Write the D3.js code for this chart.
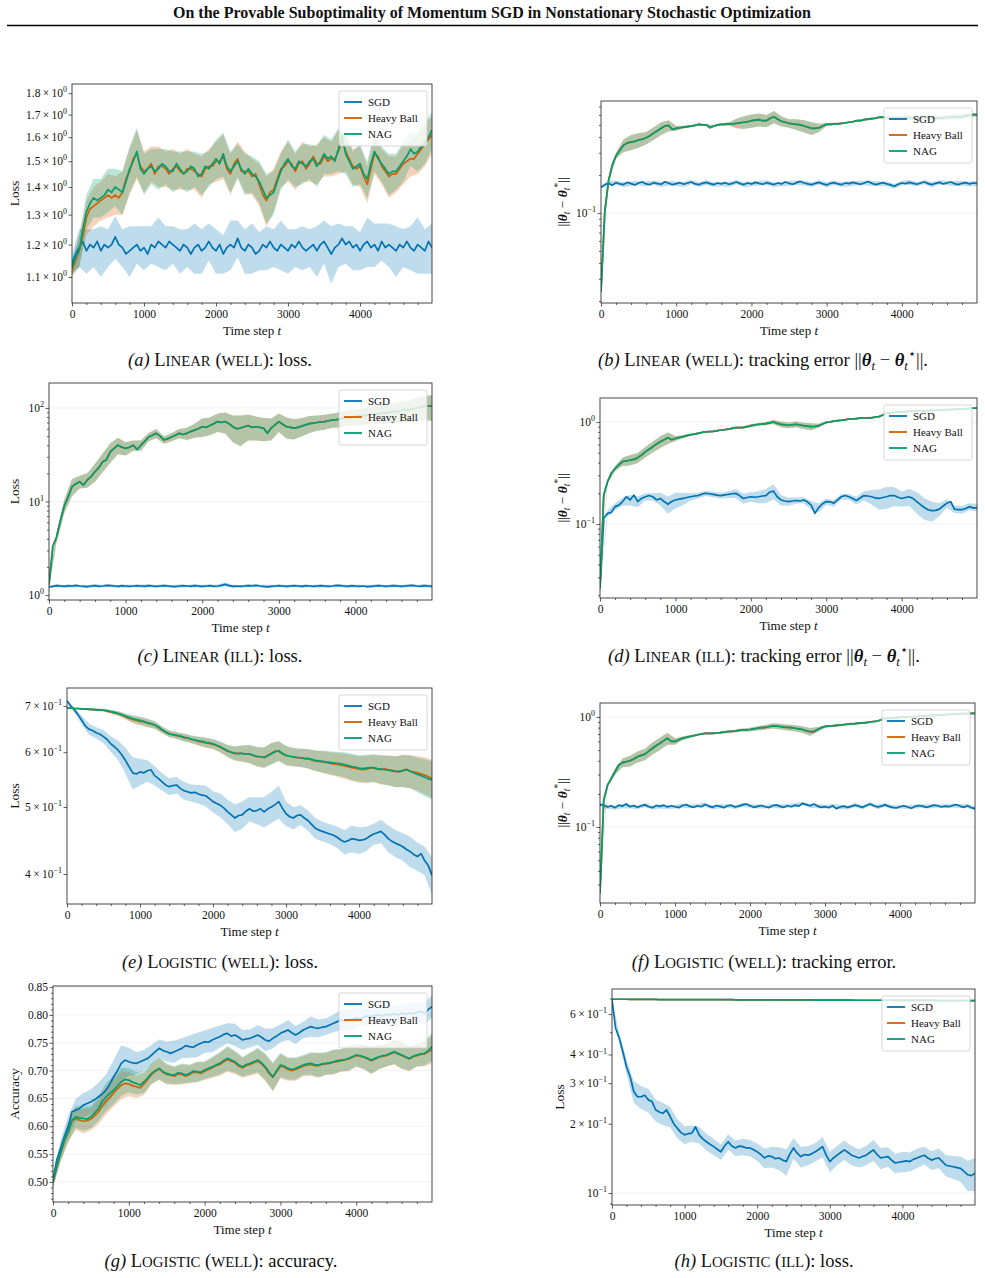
<!DOCTYPE html>
<html>
<head>
<meta charset="utf-8">
<script src="https://cdn.jsdelivr.net/npm/d3@7"></script>
<style>
body { margin: 0; background: #fff; }
svg { display: block; }
text { font-family: "Liberation Serif", "Times New Roman", serif; fill: #111; }
</style>
</head>
<body>
<svg id="fig" width="985" height="1278"></svg>
<script>
/*global d3*/

// ---- time grid (every 50 steps, last step 4999) ----
var steps = d3.range(0, 5000, 50).concat([4999]);
var bandSteps = steps.filter(function (d, i) { return i % 2 === 0; });
var xTicks = [0, 1000, 2000, 3000, 4000];

// ---- (a) Linear (well): loss ----
var sgdA = [1.14,1.17,1.19,1.21,1.18,1.20,1.19,1.21,1.18,1.20,
  1.19,1.20,1.225,1.20,1.19,1.17,1.18,1.19,1.20,1.18,
  1.19,1.17,1.20,1.19,1.21,1.20,1.19,1.21,1.20,1.19,
  1.18,1.20,1.19,1.17,1.19,1.20,1.18,1.19,1.21,1.19,
  1.18,1.20,1.17,1.19,1.20,1.19,1.22,1.19,1.18,1.20,
  1.19,1.17,1.18,1.20,1.19,1.21,1.19,1.18,1.20,1.19,
  1.18,1.20,1.19,1.21,1.19,1.18,1.19,1.20,1.18,1.20,
  1.21,1.19,1.17,1.19,1.20,1.22,1.20,1.21,1.19,1.20,
  1.18,1.20,1.21,1.19,1.20,1.18,1.21,1.19,1.20,1.19,
  1.18,1.20,1.19,1.21,1.19,1.18,1.20,1.19,1.18,1.21,
  1.19];
var bandSgdA = [0.03,0.06,0.07,0.06,0.08,0.06,0.07,0.06,0.08,0.06,
  0.07,0.06,0.08,0.07,0.06,0.07,0.06,0.08,0.07,0.06,
  0.07,0.06,0.08,0.06,0.07,0.08,0.06,0.07,0.06,0.08,
  0.07,0.06,0.07,0.06,0.08,0.07,0.09,0.07,0.06,0.07,
  0.06,0.08,0.07,0.06,0.07,0.08,0.06,0.07,0.09,0.07,
  0.08];
var hbA = [1.12,1.15,1.18,1.23,1.29,1.32,1.33,1.34,1.35,1.36,
  1.37,1.36,1.37,1.36,1.38,1.43,1.46,1.51,1.53,1.48,
  1.46,1.47,1.49,1.45,1.48,1.48,1.47,1.45,1.47,1.48,
  1.46,1.45,1.47,1.47,1.46,1.45,1.44,1.47,1.48,1.48,
  1.50,1.50,1.52,1.47,1.45,1.49,1.51,1.46,1.46,1.46,
  1.44,1.45,1.41,1.37,1.35,1.38,1.39,1.43,1.47,1.48,
  1.50,1.49,1.46,1.49,1.50,1.47,1.49,1.52,1.49,1.49,
  1.52,1.50,1.51,1.51,1.54,1.59,1.54,1.51,1.48,1.47,
  1.48,1.44,1.41,1.47,1.53,1.52,1.48,1.46,1.44,1.45,
  1.45,1.47,1.49,1.50,1.51,1.51,1.53,1.55,1.57,1.59,
  1.61];
var nagA = [1.13,1.16,1.18,1.25,1.31,1.34,1.36,1.35,1.36,1.37,
  1.39,1.38,1.40,1.39,1.38,1.42,1.47,1.50,1.54,1.47,
  1.45,1.47,1.48,1.46,1.47,1.49,1.48,1.46,1.46,1.49,
  1.47,1.45,1.46,1.48,1.47,1.44,1.45,1.48,1.47,1.49,
  1.51,1.49,1.53,1.48,1.46,1.48,1.50,1.47,1.45,1.47,
  1.45,1.44,1.42,1.39,1.36,1.37,1.38,1.42,1.46,1.49,
  1.51,1.48,1.47,1.50,1.49,1.48,1.50,1.51,1.48,1.50,
  1.53,1.51,1.52,1.50,1.55,1.61,1.53,1.50,1.47,1.48,
  1.49,1.45,1.43,1.49,1.54,1.51,1.49,1.47,1.45,1.46,
  1.46,1.48,1.50,1.52,1.55,1.53,1.54,1.56,1.58,1.60,
  1.63];
var bandNagA = [0.02,0.05,0.06,0.07,0.07,0.08,0.07,0.08,0.09,0.10,
  0.08,0.07,0.08,0.07,0.08,0.07,0.08,0.07,0.08,0.07,
  0.08,0.09,0.08,0.07,0.08,0.07,0.08,0.09,0.08,0.07,
  0.08,0.07,0.08,0.07,0.08,0.08,0.07,0.09,0.08,0.07,
  0.08,0.07,0.08,0.07,0.08,0.07,0.08,0.07,0.08,0.09,
  0.08];

// ---- (b) Linear (well): tracking error ----
var sgdB = [0.160,0.168,0.172,0.166,0.174,0.170,0.168,0.175,0.171,0.167,
  0.173,0.176,0.170,0.168,0.174,0.171,0.169,0.177,0.172,0.168,
  0.171,0.174,0.169,0.173,0.176,0.170,0.168,0.172,0.175,0.171,
  0.168,0.173,0.170,0.174,0.169,0.172,0.176,0.171,0.168,0.173,
  0.170,0.175,0.172,0.169,0.174,0.171,0.168,0.173,0.170,0.176,
  0.172,0.169,0.174,0.178,0.173,0.170,0.168,0.172,0.175,0.170,
  0.167,0.172,0.174,0.170,0.168,0.173,0.171,0.175,0.172,0.169,
  0.173,0.178,0.172,0.168,0.171,0.174,0.170,0.167,0.163,0.169,
  0.173,0.171,0.175,0.172,0.169,0.173,0.176,0.171,0.168,0.172,
  0.175,0.170,0.173,0.176,0.171,0.168,0.172,0.174,0.170,0.173,
  0.172];
var bandSgdB = [0.004,0.007,0.007,0.008,0.007,0.007,0.008,0.007,0.008,0.007,
  0.007,0.008,0.007,0.007,0.008,0.007,0.007,0.008,0.007,0.008,
  0.007,0.007,0.008,0.007,0.007,0.008,0.007,0.008,0.007,0.007,
  0.008,0.007,0.007,0.008,0.007,0.007,0.008,0.007,0.008,0.007,
  0.007,0.008,0.007,0.007,0.008,0.007,0.007,0.008,0.007,0.008,
  0.008];
var nagB = [0.0236,0.102,0.18,0.24,0.285,0.315,0.345,0.36,0.365,0.37,
  0.38,0.385,0.395,0.41,0.43,0.45,0.47,0.49,0.495,0.46,
  0.47,0.475,0.48,0.485,0.49,0.495,0.505,0.50,0.50,0.475,
  0.49,0.50,0.505,0.505,0.51,0.51,0.515,0.52,0.525,0.53,
  0.54,0.545,0.55,0.54,0.54,0.565,0.58,0.555,0.535,0.525,
  0.515,0.51,0.505,0.50,0.49,0.48,0.47,0.47,0.475,0.49,
  0.505,0.505,0.51,0.51,0.515,0.52,0.525,0.53,0.54,0.54,
  0.55,0.555,0.56,0.565,0.575,0.58,0.57,0.565,0.57,0.57,
  0.57,0.575,0.57,0.565,0.565,0.57,0.565,0.57,0.57,0.565,
  0.565,0.57,0.575,0.575,0.58,0.58,0.58,0.59,0.60,0.605,
  0.60];
var bandNagB = [0.001,0.004,0.015,0.04,0.05,0.05,0.045,0.05,0.055,0.05,
  0.02,0.012,0.01,0.008,0.008,0.008,0.01,0.015,0.045,0.06,
  0.065,0.065,0.06,0.065,0.05,0.04,0.05,0.055,0.055,0.035,
  0.012,0.01,0.008,0.008,0.01,0.01,0.012,0.012,0.015,0.015,
  0.02,0.02,0.02,0.02,0.02,0.02,0.02,0.025,0.025,0.02,
  0.015];

// ---- (c) Linear (ill): loss ----
var sgdC = [1.22,1.24,1.26,1.25,1.24,1.26,1.25,1.27,1.25,1.24,
  1.23,1.25,1.26,1.24,1.25,1.27,1.26,1.25,1.24,1.26,
  1.25,1.24,1.25,1.26,1.25,1.24,1.26,1.25,1.24,1.25,
  1.26,1.25,1.24,1.23,1.25,1.26,1.25,1.24,1.26,1.25,
  1.24,1.25,1.26,1.24,1.25,1.27,1.30,1.26,1.24,1.25,
  1.24,1.25,1.26,1.25,1.27,1.25,1.24,1.22,1.24,1.25,
  1.26,1.25,1.24,1.25,1.26,1.25,1.24,1.26,1.25,1.24,
  1.25,1.26,1.25,1.24,1.25,1.27,1.26,1.25,1.24,1.26,
  1.25,1.24,1.25,1.23,1.24,1.25,1.26,1.25,1.24,1.25,
  1.26,1.25,1.24,1.25,1.26,1.27,1.25,1.24,1.26,1.25,
  1.24];
var bandSgdC = [0.02,0.05,0.04,0.05,0.04,0.05,0.05,0.04,0.05,0.04,
  0.05,0.04,0.05,0.05,0.04,0.05,0.04,0.05,0.04,0.05,
  0.05,0.04,0.05,0.06,0.05,0.04,0.05,0.04,0.05,0.05,
  0.04,0.05,0.04,0.05,0.04,0.05,0.05,0.04,0.05,0.04,
  0.05,0.04,0.05,0.05,0.04,0.05,0.04,0.05,0.04,0.05,
  0.05];
var nagC = [1.3,3.3,4.2,6.3,9.0,11.2,14.4,15.5,16.3,15.0,
  17,18.5,20.8,23,26.6,28,34,37,40,38,
  37,38,40,36,40,44,49,51,53.6,50,
  45.5,47,49,51,53.6,52,53.6,56,58,60,
  63,62,65,68,71.5,70,71.5,68,63,60,
  61,63,65,62,63,62,61,53.6,61,66,
  71.5,67,63,62,61,62,64,66,68,69,
  70,71,71.5,73,74.5,75,76,78,80,79,
  81,83,82,84,86,85,87,89,88,90,
  92,91,94,96,95,98,100,103,104,105,
  105];
var bandNagC = [0.1,0.5,1.5,3,2.5,3,4.5,6,8,8,
  6,5,5,5,6,4,5,6,8,10,
  14,14,16,18,20,22,20,18,17,16,
  16,16,15,14,14,13,13,13,14,15,
  16,17,18,19,20,22,24,26,28,30,
  32];

// ---- (d) Linear (ill): tracking error ----
var sgdD = [0.0234,0.114,0.127,0.13,0.148,0.153,0.166,0.185,0.172,0.192,
  0.166,0.178,0.185,0.19,0.185,0.172,0.178,0.166,0.156,0.166,
  0.172,0.175,0.178,0.182,0.185,0.188,0.19,0.196,0.20,0.198,
  0.195,0.192,0.19,0.193,0.195,0.198,0.20,0.19,0.178,0.182,
  0.185,0.183,0.185,0.188,0.19,0.205,0.21,0.185,0.172,0.168,
  0.166,0.168,0.17,0.168,0.172,0.165,0.153,0.127,0.145,0.158,
  0.166,0.165,0.16,0.172,0.185,0.19,0.185,0.178,0.17,0.18,
  0.19,0.188,0.185,0.18,0.178,0.182,0.185,0.19,0.19,0.183,
  0.178,0.182,0.185,0.178,0.166,0.155,0.145,0.138,0.135,0.136,
  0.14,0.15,0.16,0.166,0.14,0.138,0.138,0.142,0.148,0.143,
  0.145];
var bandSgdD = [0.001,0.01,0.012,0.015,0.02,0.02,0.015,0.015,0.025,0.03,
  0.03,0.025,0.015,0.012,0.012,0.012,0.012,0.015,0.02,0.02,
  0.02,0.025,0.03,0.035,0.02,0.015,0.012,0.012,0.015,0.015,
  0.012,0.012,0.012,0.012,0.015,0.02,0.03,0.04,0.045,0.04,
  0.03,0.035,0.04,0.035,0.03,0.02,0.015,0.012,0.012,0.012,
  0.012];
var nagD = [0.0234,0.192,0.26,0.314,0.35,0.38,0.41,0.415,0.424,0.43,
  0.447,0.475,0.51,0.54,0.573,0.61,0.641,0.67,0.70,0.67,
  0.69,0.705,0.718,0.735,0.75,0.76,0.775,0.79,0.80,0.805,
  0.81,0.82,0.835,0.84,0.85,0.865,0.88,0.88,0.885,0.90,
  0.92,0.935,0.95,0.955,0.965,0.98,1.0,0.97,0.95,0.94,
  0.93,0.94,0.95,0.935,0.92,0.91,0.90,0.905,0.92,0.955,
  0.99,1.0,1.02,1.03,1.04,1.05,1.07,1.07,1.08,1.09,
  1.10,1.10,1.10,1.12,1.13,1.17,1.22,1.23,1.24,1.25,
  1.26,1.265,1.27,1.275,1.28,1.285,1.29,1.295,1.30,1.305,
  1.31,1.315,1.32,1.325,1.33,1.335,1.34,1.35,1.36,1.365,
  1.37];
var bandNagD = [0.001,0.01,0.02,0.04,0.05,0.05,0.06,0.07,0.085,0.09,
  0.04,0.025,0.02,0.015,0.015,0.015,0.015,0.02,0.02,0.025,
  0.03,0.03,0.035,0.045,0.06,0.06,0.06,0.065,0.07,0.04,
  0.025,0.02,0.02,0.02,0.02,0.02,0.025,0.025,0.025,0.025,
  0.025,0.025,0.025,0.025,0.025,0.025,0.025,0.025,0.025,0.025,
  0.02];

// ---- (e) Logistic (well): loss ----
var sgdE = [0.712,0.70,0.691,0.68,0.668,0.655,0.648,0.645,0.64,0.637,
  0.632,0.626,0.617,0.611,0.604,0.595,0.584,0.572,0.56,0.558,
  0.562,0.56,0.564,0.566,0.555,0.55,0.544,0.538,0.535,0.537,
  0.538,0.532,0.528,0.526,0.524,0.525,0.522,0.52,0.519,0.514,
  0.509,0.506,0.503,0.498,0.492,0.487,0.482,0.486,0.487,0.493,
  0.497,0.493,0.494,0.497,0.492,0.497,0.50,0.504,0.509,0.498,
  0.489,0.484,0.482,0.486,0.487,0.482,0.478,0.472,0.466,0.463,
  0.461,0.459,0.457,0.455,0.452,0.448,0.445,0.447,0.45,0.449,
  0.4475,0.448,0.45,0.454,0.457,0.459,0.461,0.456,0.45,0.446,
  0.443,0.441,0.438,0.434,0.431,0.427,0.424,0.428,0.418,0.411,
  0.398];
var bandSgdE = [0.002,0.006,0.01,0.012,0.012,0.014,0.016,0.02,0.025,0.03,
  0.025,0.02,0.018,0.016,0.015,0.015,0.016,0.015,0.016,0.018,
  0.018,0.02,0.02,0.022,0.022,0.02,0.022,0.025,0.026,0.028,
  0.02,0.018,0.016,0.016,0.016,0.015,0.015,0.016,0.018,0.02,
  0.02,0.018,0.016,0.018,0.02,0.02,0.02,0.022,0.02,0.02,
  0.025];
var hbE = [0.695,0.695,0.694,0.694,0.693,0.693,0.692,0.692,0.691,0.691,
  0.690,0.688,0.686,0.684,0.682,0.679,0.675,0.672,0.669,0.667,
  0.665,0.664,0.661,0.659,0.657,0.652,0.646,0.641,0.638,0.636,
  0.634,0.633,0.630,0.629,0.626,0.625,0.622,0.621,0.619,0.618,
  0.616,0.613,0.610,0.606,0.602,0.600,0.597,0.598,0.597,0.596,
  0.596,0.594,0.591,0.591,0.589,0.594,0.598,0.602,0.602,0.597,
  0.593,0.592,0.590,0.589,0.589,0.587,0.587,0.585,0.583,0.582,
  0.581,0.580,0.578,0.577,0.576,0.575,0.573,0.572,0.570,0.569,
  0.567,0.566,0.567,0.569,0.569,0.567,0.566,0.568,0.566,0.565,
  0.563,0.562,0.565,0.567,0.563,0.562,0.560,0.558,0.556,0.553,
  0.550];
var nagE = [0.695,0.695,0.694,0.694,0.693,0.693,0.692,0.692,0.691,0.691,
  0.690,0.689,0.687,0.685,0.683,0.680,0.677,0.674,0.671,0.669,
  0.667,0.665,0.662,0.660,0.657,0.653,0.647,0.642,0.638,0.636,
  0.635,0.633,0.631,0.629,0.627,0.625,0.623,0.622,0.620,0.619,
  0.617,0.614,0.611,0.607,0.603,0.600,0.598,0.597,0.598,0.596,
  0.597,0.594,0.592,0.591,0.590,0.593,0.597,0.601,0.603,0.598,
  0.594,0.592,0.591,0.590,0.589,0.588,0.588,0.586,0.584,0.583,
  0.582,0.581,0.580,0.579,0.578,0.577,0.576,0.574,0.572,0.571,
  0.569,0.568,0.569,0.570,0.570,0.568,0.567,0.566,0.565,0.564,
  0.563,0.563,0.564,0.566,0.563,0.560,0.557,0.555,0.552,0.549,
  0.547];
var bandNagE = [0.001,0.001,0.002,0.002,0.003,0.003,0.004,0.005,0.006,0.008,
  0.009,0.009,0.008,0.007,0.007,0.007,0.008,0.008,0.009,0.010,
  0.010,0.011,0.012,0.014,0.016,0.018,0.019,0.020,0.021,0.020,
  0.019,0.018,0.018,0.019,0.020,0.021,0.022,0.023,0.024,0.025,
  0.025,0.026,0.026,0.027,0.028,0.029,0.030,0.031,0.032,0.034,
  0.035];

// ---- (f) Logistic (well): tracking error ----
var sgdF = [0.160,0.158,0.152,0.156,0.150,0.158,0.155,0.162,0.153,0.157,
  0.151,0.156,0.159,0.153,0.150,0.157,0.154,0.158,0.152,0.156,
  0.153,0.150,0.157,0.160,0.154,0.151,0.156,0.153,0.160,0.155,
  0.151,0.157,0.154,0.150,0.156,0.158,0.152,0.155,0.159,0.162,
  0.156,0.151,0.154,0.157,0.153,0.150,0.156,0.159,0.154,0.151,
  0.156,0.153,0.158,0.155,0.164,0.160,0.156,0.162,0.155,0.151,
  0.153,0.150,0.156,0.147,0.152,0.155,0.151,0.154,0.158,0.155,
  0.151,0.157,0.162,0.156,0.152,0.155,0.159,0.154,0.151,0.149,
  0.153,0.156,0.152,0.148,0.154,0.157,0.155,0.151,0.154,0.158,
  0.156,0.152,0.155,0.153,0.157,0.160,0.155,0.151,0.156,0.150,
  0.147];
var bandSgdF = [0.006,0.007,0.006,0.007,0.006,0.006,0.007,0.006,0.007,0.006,
  0.006,0.007,0.006,0.006,0.007,0.006,0.007,0.006,0.006,0.007,
  0.006,0.007,0.006,0.006,0.007,0.006,0.007,0.006,0.006,0.007,
  0.006,0.006,0.007,0.006,0.007,0.006,0.006,0.007,0.006,0.007,
  0.006,0.006,0.007,0.006,0.007,0.006,0.006,0.007,0.006,0.007,
  0.006];
var nagF = [0.025,0.176,0.24,0.275,0.318,0.366,0.385,0.392,0.40,0.415,
  0.435,0.448,0.46,0.49,0.52,0.55,0.577,0.61,0.64,0.60,
  0.60,0.62,0.64,0.655,0.665,0.675,0.69,0.70,0.71,0.71,
  0.71,0.715,0.72,0.728,0.735,0.74,0.745,0.755,0.762,0.765,
  0.77,0.78,0.79,0.80,0.805,0.815,0.83,0.825,0.82,0.81,
  0.805,0.80,0.79,0.78,0.77,0.75,0.735,0.735,0.77,0.80,
  0.82,0.825,0.83,0.838,0.845,0.85,0.86,0.865,0.87,0.878,
  0.885,0.89,0.90,0.91,0.92,0.945,0.97,0.975,0.98,0.985,
  0.99,0.995,1.0,1.005,1.01,1.015,1.02,1.025,1.03,1.035,
  1.04,1.045,1.05,1.055,1.06,1.065,1.07,1.072,1.075,1.078,
  1.08];
var bandNagF = [0.001,0.01,0.02,0.035,0.045,0.05,0.055,0.065,0.075,0.08,
  0.04,0.025,0.02,0.015,0.015,0.015,0.015,0.02,0.02,0.025,
  0.03,0.035,0.04,0.045,0.05,0.05,0.05,0.055,0.06,0.04,
  0.02,0.02,0.02,0.02,0.02,0.02,0.02,0.02,0.02,0.02,
  0.02,0.02,0.02,0.02,0.02,0.02,0.02,0.02,0.02,0.02,
  0.02];

// ---- (g) Logistic (well): accuracy ----
var sgdG = [0.503,0.54,0.56,0.581,0.599,0.626,0.629,0.632,0.638,0.641,
  0.644,0.648,0.653,0.658,0.665,0.676,0.689,0.70,0.713,0.719,
  0.716,0.714,0.713,0.716,0.719,0.722,0.728,0.734,0.74,0.736,
  0.734,0.731,0.734,0.737,0.74,0.745,0.743,0.742,0.746,0.749,
  0.752,0.751,0.755,0.758,0.761,0.765,0.767,0.762,0.764,0.76,
  0.755,0.757,0.758,0.761,0.764,0.76,0.755,0.753,0.758,0.762,
  0.767,0.77,0.773,0.768,0.764,0.768,0.773,0.776,0.779,0.777,
  0.776,0.778,0.779,0.782,0.785,0.788,0.791,0.789,0.79,0.792,
  0.795,0.793,0.796,0.798,0.797,0.799,0.80,0.798,0.801,0.80,
  0.802,0.80,0.803,0.801,0.804,0.802,0.805,0.806,0.803,0.81,
  0.815];
var bandSgdG = [0.01,0.015,0.02,0.02,0.022,0.022,0.025,0.028,0.03,0.032,
  0.025,0.02,0.018,0.018,0.016,0.018,0.02,0.018,0.02,0.022,
  0.02,0.022,0.02,0.018,0.02,0.018,0.016,0.018,0.02,0.018,
  0.016,0.018,0.016,0.015,0.018,0.016,0.015,0.016,0.018,0.02,
  0.018,0.016,0.015,0.016,0.018,0.016,0.015,0.016,0.018,0.02,
  0.02];
var hbG = [0.50,0.527,0.55,0.574,0.589,0.61,0.614,0.611,0.609,0.61,
  0.613,0.619,0.626,0.637,0.646,0.652,0.66,0.667,0.674,0.677,
  0.676,0.673,0.671,0.669,0.676,0.684,0.693,0.699,0.703,0.697,
  0.693,0.692,0.69,0.694,0.693,0.69,0.693,0.697,0.697,0.695,
  0.699,0.702,0.705,0.709,0.711,0.716,0.72,0.717,0.714,0.708,
  0.705,0.709,0.711,0.714,0.717,0.712,0.705,0.695,0.688,0.698,
  0.708,0.706,0.702,0.70,0.702,0.705,0.708,0.71,0.711,0.709,
  0.709,0.711,0.712,0.713,0.715,0.716,0.718,0.719,0.721,0.724,
  0.727,0.726,0.724,0.721,0.718,0.721,0.724,0.726,0.727,0.73,
  0.733,0.73,0.727,0.724,0.721,0.725,0.727,0.729,0.73,0.734,
  0.738];
var nagG = [0.50,0.528,0.552,0.576,0.59,0.611,0.617,0.615,0.614,0.613,
  0.617,0.624,0.632,0.645,0.653,0.659,0.665,0.672,0.68,0.684,
  0.683,0.679,0.677,0.674,0.68,0.687,0.695,0.70,0.704,0.698,
  0.695,0.693,0.692,0.696,0.695,0.692,0.695,0.699,0.698,0.697,
  0.701,0.704,0.707,0.71,0.713,0.718,0.722,0.719,0.716,0.71,
  0.707,0.711,0.713,0.716,0.719,0.714,0.707,0.697,0.689,0.70,
  0.71,0.708,0.704,0.702,0.704,0.707,0.71,0.712,0.713,0.711,
  0.71,0.712,0.713,0.714,0.716,0.718,0.719,0.72,0.722,0.725,
  0.728,0.727,0.725,0.722,0.719,0.722,0.725,0.727,0.728,0.731,
  0.734,0.731,0.728,0.725,0.722,0.726,0.728,0.73,0.731,0.736,
  0.743];
var bandNagG = [0.01,0.015,0.018,0.02,0.022,0.02,0.022,0.025,0.025,0.025,
  0.022,0.02,0.02,0.018,0.02,0.018,0.016,0.018,0.016,0.018,
  0.016,0.018,0.02,0.022,0.02,0.018,0.02,0.022,0.024,0.025,
  0.022,0.02,0.02,0.018,0.02,0.022,0.02,0.022,0.02,0.022,
  0.02,0.022,0.024,0.022,0.02,0.022,0.024,0.022,0.02,0.022,
  0.025];

// ---- (h) Logistic (ill): loss ----
var sgdH = [0.69,0.52,0.471,0.411,0.354,0.32,0.276,0.262,0.262,0.266,
  0.254,0.25,0.23,0.225,0.222,0.23,0.215,0.20,0.191,0.183,
  0.179,0.181,0.182,0.194,0.179,0.172,0.167,0.163,0.159,0.155,
  0.151,0.16,0.167,0.16,0.157,0.16,0.159,0.157,0.157,0.154,
  0.151,0.147,0.142,0.145,0.144,0.141,0.142,0.139,0.137,0.148,
  0.157,0.149,0.144,0.147,0.146,0.148,0.151,0.155,0.159,0.146,
  0.137,0.142,0.146,0.15,0.154,0.15,0.146,0.144,0.142,0.144,
  0.146,0.15,0.154,0.147,0.142,0.143,0.144,0.139,0.135,0.136,
  0.137,0.138,0.137,0.14,0.142,0.144,0.146,0.142,0.139,0.141,
  0.142,0.137,0.132,0.131,0.13,0.129,0.128,0.124,0.12,0.119,
  0.122];
var bandSgdH = [0.002,0.025,0.025,0.03,0.03,0.03,0.025,0.025,0.022,0.018,
  0.016,0.015,0.015,0.014,0.013,0.012,0.013,0.012,0.013,0.013,
  0.013,0.014,0.015,0.016,0.018,0.016,0.015,0.014,0.014,0.016,
  0.014,0.014,0.015,0.014,0.013,0.014,0.016,0.015,0.014,0.013,
  0.014,0.013,0.014,0.013,0.013,0.014,0.014,0.015,0.016,0.018,
  0.02];
var nagH = [0.695,0.695,0.695,0.695,0.695,0.694,0.694,0.694,0.694,0.694,
  0.694,0.694,0.694,0.693,0.693,0.693,0.693,0.693,0.693,0.693,
  0.693,0.693,0.693,0.692,0.692,0.692,0.692,0.692,0.692,0.692,
  0.692,0.692,0.692,0.692,0.691,0.691,0.691,0.691,0.691,0.691,
  0.691,0.691,0.691,0.691,0.691,0.690,0.690,0.690,0.690,0.690,
  0.690,0.690,0.690,0.690,0.690,0.690,0.689,0.689,0.689,0.689,
  0.689,0.689,0.689,0.689,0.689,0.689,0.689,0.688,0.688,0.688,
  0.688,0.688,0.688,0.688,0.688,0.688,0.688,0.688,0.687,0.687,
  0.687,0.687,0.687,0.687,0.687,0.687,0.687,0.687,0.687,0.687,
  0.686,0.686,0.686,0.686,0.686,0.686,0.686,0.686,0.686,0.686,
  0.686];
var bandNagH = [0.001,0.002,0.002,0.002,0.002,0.002,0.002,0.002,0.002,0.002,
  0.002,0.002,0.002,0.002,0.002,0.002,0.002,0.002,0.002,0.002,
  0.002,0.002,0.002,0.002,0.002,0.002,0.002,0.002,0.002,0.002,
  0.002,0.002,0.002,0.002,0.002,0.002,0.002,0.002,0.002,0.002,
  0.002,0.002,0.002,0.002,0.002,0.002,0.002,0.002,0.002,0.002,
  0.002];

// ---- y tick labels: [value, mantissa, exponent] ----
var yTicksA = [[1.1,"1.1","0"],[1.2,"1.2","0"],[1.3,"1.3","0"],[1.4,"1.4","0"],
  [1.5,"1.5","0"],[1.6,"1.6","0"],[1.7,"1.7","0"],[1.8,"1.8","0"]];
var yTicksB = [[0.1,"","\u22121"]];
var yTicksC = [[1,"","0"],[10,"","1"],[100,"","2"]];
var yTicksD = [[0.1,"","\u22121"],[1,"","0"]];
var yTicksE = [[0.4,"4","\u22121"],[0.5,"5","\u22121"],[0.6,"6","\u22121"],[0.7,"7","\u22121"]];
var yTicksF = [[0.1,"","\u22121"],[1,"","0"]];
var yTicksG = [[0.50,"0.50"],[0.55,"0.55"],[0.60,"0.60"],[0.65,"0.65"],
  [0.70,"0.70"],[0.75,"0.75"],[0.80,"0.80"],[0.85,"0.85"]];
var yTicksH = [[0.1,"","\u22121"],[0.2,"2","\u22121"],[0.3,"3","\u22121"],
  [0.4,"4","\u22121"],[0.6,"6","\u22121"]];

var seriesNames = ["SGD", "Heavy Ball", "NAG"];
var seriesColors = ["#0173B2", "#D55E00", "#029E73"];

// ---- text pieces ----
var lossLabel = [["Loss", "n"]];
var accLabel = [["Accuracy", "n"]];
var trackLabel = [["||", "n"], ["\u03b8", "bi"], ["t", "sub"], [" \u2212 ", "n"],
  ["\u03b8", "bi"], ["t", "sub"], ["*", "sup"], ["||", "n"]];
var trackCap = [["||", "n"], ["\u03b8", "bi"], ["t", "sub"], [" \u2212 ", "n"],
  ["\u03b8", "bi"], ["t", "sub"], ["\u22c6", "sup"], ["||.", "n"]];

function cap(letter, name, kind, rest) {
  return [["(" + letter + ")", "i"], [" " + name[0], "n"], [name.slice(1), "sc"],
    [" (", "n"], [kind, "sc"], ["): " + rest, "n"]];
}

var captionA = cap("a", "LINEAR", "WELL", "loss.");
var captionB = cap("b", "LINEAR", "WELL", "tracking error ").concat(trackCap);
var captionC = cap("c", "LINEAR", "ILL", "loss.");
var captionD = cap("d", "LINEAR", "ILL", "tracking error ").concat(trackCap);
var captionE = cap("e", "LOGISTIC", "WELL", "loss.");
var captionF = cap("f", "LOGISTIC", "WELL", "tracking error.");
var captionG = cap("g", "LOGISTIC", "WELL", "accuracy.");
var captionH = cap("h", "LOGISTIC", "ILL", "loss.");

// ---- layout ----
var panels = [
  {box: [72, 84, 432, 303], log: true, yDomain: [1.026, 1.845], minor: false, yTicks: yTicksA,
    sgd: [sgdA, bandSgdA], hb: [hbA, bandNagA], nag: [nagA, bandNagA],
    yLabel: lossLabel, yLabelX: 19, caption: captionA, capX: 220, capY: 366},
  {box: [601, 101, 977, 303], log: true, yDomain: [0.0193, 0.774], minor: true, yTicks: yTicksB,
    sgd: [sgdB, bandSgdB], hb: [nagB, bandNagB], nag: [nagB, bandNagB],
    yLabel: trackLabel, yLabelX: 567, caption: captionB, capX: 763, capY: 366},
  {box: [49, 383, 432, 600], log: true, yDomain: [0.885, 185], minor: true, yTicks: yTicksC,
    sgd: [sgdC, bandSgdC], hb: [nagC, bandNagC], nag: [nagC, bandNagC],
    yLabel: lossLabel, yLabelX: 19, caption: captionC, capX: 220, capY: 662},
  {box: [600, 398, 977, 598], log: true, yDomain: [0.0188, 1.72], minor: true, yTicks: yTicksD,
    sgd: [sgdD, bandSgdD], hb: [nagD, bandNagD], nag: [nagD, bandNagD],
    yLabel: trackLabel, yLabelX: 567, caption: captionD, capX: 764, capY: 662},
  {box: [67, 688, 432, 904], log: true, yDomain: [0.362, 0.743], minor: false, yTicks: yTicksE,
    sgd: [sgdE, bandSgdE], hb: [hbE, bandNagE], nag: [nagE, bandNagE],
    yLabel: lossLabel, yLabelX: 19, caption: captionE, capX: 220, capY: 968},
  {box: [600, 703, 975, 903], log: true, yDomain: [0.0204, 1.34], minor: true, yTicks: yTicksF,
    sgd: [sgdF, bandSgdF], hb: [nagF, bandNagF], nag: [nagF, bandNagF],
    yLabel: trackLabel, yLabelX: 567, caption: captionF, capX: 764, capY: 968},
  {box: [53, 986, 432, 1202], log: false, yDomain: [0.464, 0.852], minor: true, yTicks: yTicksG,
    sgd: [sgdG, bandSgdG], hb: [hbG, bandNagG], nag: [nagG, bandNagG],
    yLabel: accLabel, yLabelX: 19, caption: captionG, capX: 221, capY: 1267},
  {box: [612, 989, 975, 1205], log: true, yDomain: [0.0887, 0.77], minor: true, yTicks: yTicksH,
    sgd: [sgdH, bandSgdH], hb: [nagH, bandNagH], nag: [nagH, bandNagH],
    yLabel: lossLabel, yLabelX: 564, caption: captionH, capX: 764, capY: 1267}
];

var svg = d3.select("#fig");

// Writes parts [text, kind] as tspans (kinds: n, i, bi, sc, sub, sup)
function richText(sel, parts, size) {
  var shift = 0;
  parts.forEach(function (part) {
    var kind = part[1];
    var fs = size, off = 0;
    var ts = sel.append("tspan");
    if (kind === "sc") { fs = size * 0.8; }
    if (kind === "sub") { fs = size * 0.7; off = size * 0.22; }
    if (kind === "sup") { fs = size * 0.7; off = -size * 0.42; }
    if (kind === "i" || kind === "bi" || kind === "sub") ts.attr("font-style", "italic");
    if (kind === "bi") ts.attr("font-weight", "bold");
    ts.attr("font-size", fs).attr("dy", off - shift).text(part[0]);
    shift = off;
  });
}

// title
svg.append("text")
  .attr("x", 492).attr("y", 18)
  .attr("text-anchor", "middle")
  .attr("font-weight", "bold")
  .attr("font-size", 16)
  .text("On the Provable Suboptimality of Momentum SGD in Nonstationary Stochastic Optimization");
svg.append("line")
  .attr("x1", 7).attr("x2", 978).attr("y1", 25.5).attr("y2", 25.5)
  .attr("stroke", "#000").attr("stroke-width", 1.5);

panels.forEach(function (p, pi) {
  var left = p.box[0], top = p.box[1], right = p.box[2], bottom = p.box[3];
  var g = svg.append("g");

  var xScale = d3.scaleLinear().domain([0, 4999]).range([left, right]);
  var yScale = (p.log ? d3.scaleLog() : d3.scaleLinear()).domain(p.yDomain).range([bottom, top]);

  var clipId = "clip" + pi;
  g.append("clipPath").attr("id", clipId)
    .append("rect").attr("x", left).attr("y", top)
    .attr("width", right - left).attr("height", bottom - top);

  // faint grid on major y values
  var gridVals;
  if (p.log) {
    gridVals = d3.range(Math.ceil(Math.log10(p.yDomain[0])), Math.floor(Math.log10(p.yDomain[1])) + 1)
      .map(function (k) { return Math.pow(10, k); });
  } else {
    gridVals = p.yTicks.map(function (d) { return d[0]; });
  }
  g.selectAll(".grid").data(gridVals).enter().append("line")
    .attr("x1", left).attr("x2", right)
    .attr("y1", function (d) { return yScale(d); })
    .attr("y2", function (d) { return yScale(d); })
    .attr("stroke", "#000").attr("stroke-opacity", 0.07).attr("stroke-width", 0.8);

  var plot = g.append("g").attr("clip-path", "url(#" + clipId + ")");
  var series = [p.sgd, p.hb, p.nag];

  var area = function (s) {
    return d3.area()
      .x(function (d, i) { return xScale(bandSteps[i]); })
      .y0(function (d, i) { return yScale(Math.max(s[0][i * 2] - d, p.yDomain[0] * 0.5)); })
      .y1(function (d, i) { return yScale(s[0][i * 2] + d); });
  };
  var line = d3.line()
    .x(function (d, i) { return xScale(steps[i]); })
    .y(function (d) { return yScale(d); });

  series.forEach(function (s, si) {
    plot.append("path")
      .attr("d", area(s)(s[1]))
      .attr("fill", seriesColors[si])
      .attr("fill-opacity", si === 0 ? 0.25 : 0.27)
      .attr("stroke", "none");
  });
  series.forEach(function (s, si) {
    plot.append("path")
      .attr("d", line(s[0]))
      .attr("fill", "none")
      .attr("stroke", seriesColors[si])
      .attr("stroke-width", 1.7)
      .attr("stroke-linejoin", "round");
  });

  // frame
  g.append("rect")
    .attr("x", left).attr("y", top)
    .attr("width", right - left).attr("height", bottom - top)
    .attr("fill", "none").attr("stroke", "#333").attr("stroke-width", 0.9);

  // x axis
  var xAxis = g.append("g").attr("transform", "translate(0," + bottom + ")")
    .call(d3.axisBottom(xScale).tickValues(xTicks).tickSize(3.5).tickPadding(3.5).tickSizeOuter(0)
      .tickFormat(d3.format("d")));
  var xMinor = g.append("g").attr("transform", "translate(0," + bottom + ")")
    .call(d3.axisBottom(xScale)
      .tickValues(d3.range(0, 5000, 200).filter(function (d) { return d % 1000 !== 0; }))
      .tickSize(2).tickSizeOuter(0).tickFormat(""));
  [xAxis, xMinor].forEach(function (a) {
    a.select(".domain").remove();
    a.attr("color", "#333");
    a.selectAll("line").attr("stroke-width", 0.8);
  });
  xAxis.selectAll("text")
    .attr("font-family", "Liberation Serif, Times New Roman, serif")
    .attr("font-size", 11.5).attr("fill", "#111");

  // y axis ticks
  var labeled = p.yTicks.map(function (d) { return d[0]; });
  var minorVals = [];
  if (p.minor) {
    minorVals = yScale.ticks(p.log ? 10 : 40).filter(function (v) {
      return labeled.every(function (l) { return Math.abs(l - v) > 1e-9 * Math.max(1, l); });
    });
  }
  var yMajor = g.append("g").attr("transform", "translate(" + left + ",0)")
    .call(d3.axisLeft(yScale).tickValues(labeled).tickSize(3.5).tickSizeOuter(0).tickFormat(""));
  var yMinor = g.append("g").attr("transform", "translate(" + left + ",0)")
    .call(d3.axisLeft(yScale).tickValues(minorVals).tickSize(2).tickSizeOuter(0).tickFormat(""));
  [yMajor, yMinor].forEach(function (a) {
    a.select(".domain").remove();
    a.attr("color", "#333");
    a.selectAll("line").attr("stroke-width", 0.8);
  });

  p.yTicks.forEach(function (t) {
    var txt = g.append("text")
      .attr("x", left - 5)
      .attr("y", yScale(t[0]) + 4)
      .attr("text-anchor", "end")
      .attr("font-size", 11.5);
    if (t.length === 2) {
      txt.text(t[1]);
    } else {
      var base = t[1] === "" ? "10" : t[1] + "\u2009\u00d7\u200910";
      richText(txt, [[base, "n"], [t[2], "sup"]], 11.5);
    }
  });

  // axis labels
  var xl = g.append("text")
    .attr("x", (left + right) / 2).attr("y", bottom + 32)
    .attr("text-anchor", "middle").attr("font-size", 13);
  richText(xl, [["Time step ", "n"], ["t", "i"]], 13);

  var yl = g.append("text")
    .attr("transform", "translate(" + p.yLabelX + "," + ((top + bottom) / 2) + ") rotate(-90)")
    .attr("text-anchor", "middle").attr("font-size", 13.5);
  richText(yl, p.yLabel, 13.5);

  // legend
  var lg = g.append("g").attr("transform", "translate(" + (right - 93) + "," + (top + 7) + ")");
  lg.append("rect")
    .attr("width", 88).attr("height", 55).attr("rx", 2)
    .attr("fill", "#fff").attr("fill-opacity", 0.8)
    .attr("stroke", "#ccc").attr("stroke-width", 0.8);
  seriesNames.forEach(function (name, i) {
    var yy = 11 + i * 16;
    lg.append("line")
      .attr("x1", 5).attr("x2", 23).attr("y1", yy).attr("y2", yy)
      .attr("stroke", seriesColors[i]).attr("stroke-width", 1.8);
    lg.append("text")
      .attr("x", 29).attr("y", yy + 3.8)
      .attr("font-size", 11)
      .text(name);
  });

  // caption
  var ct = svg.append("text")
    .attr("x", p.capX).attr("y", p.capY)
    .attr("text-anchor", "middle").attr("font-size", 18.5);
  richText(ct, p.caption, 18.5);
});
</script>
</body>
</html>
